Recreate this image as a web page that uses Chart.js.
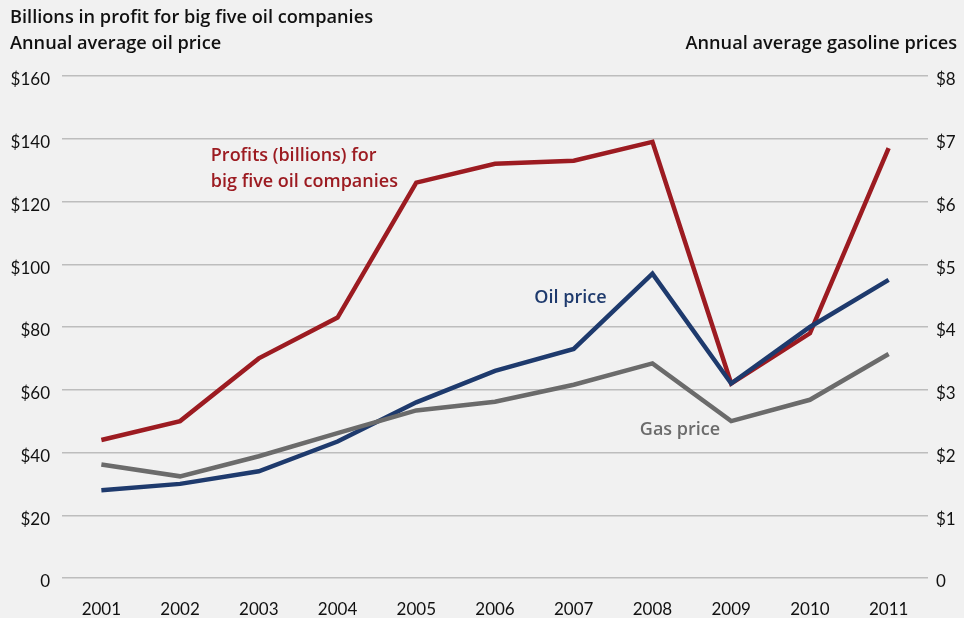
<!DOCTYPE html>
<html>
<head>
<meta charset="utf-8">
<script src="https://cdn.jsdelivr.net/npm/chart.js@4"></script>
<style>
html,body{margin:0;padding:0;background:#f1f1f1;}
#wrap{width:964px;height:618px;position:relative;}
</style>
</head>
<body>
<div id="wrap"><canvas id="c" width="964" height="618"></canvas></div>
<script>
const years = ['2001','2002','2003','2004','2005','2006','2007','2008','2009','2010','2011'];
const profits = [44, 50, 70, 83, 126, 132, 133, 139, 62, 78, 137];
const oilPrice = [28, 30, 34, 43.5, 56, 66, 73, 97, 62, 80, 95];
const gasPrice = [1.81, 1.62, 1.94, 2.31, 2.67, 2.81, 3.08, 3.42, 2.50, 2.84, 3.57];
const leftTicks = ['0','$20','$40','$60','$80','$100','$120','$140','$160'];
const rightTicks = ['0','$1','$2','$3','$4','$5','$6','$7','$8'];

const RED = '#9c1b21', BLUE = '#1e3a6d', GRAY = '#6b6b6b';
const FONT = 'Lato, "Open Sans", sans-serif';
const BFONT = '"Open Sans", Lato, sans-serif';

const textPlugin = {
  id: 'texts',
  afterDraw(chart) {
    const ctx = chart.ctx;
    const x = chart.scales.x, y = chart.scales.y;
    ctx.save();
    ctx.textBaseline = 'middle';
    ctx.font = '600 18.2px ' + BFONT;
    ctx.fillStyle = '#111';
    ctx.textAlign = 'left';
    ctx.fillText('Billions in profit for big five oil companies', 10, 18);
    ctx.fillText('Annual average oil price', 10, 44);
    ctx.textAlign = 'right';
    ctx.fillText('Annual average gasoline prices', 957, 44);
    ctx.textAlign = 'left';
    ctx.font = '600 18px ' + BFONT;
    ctx.fillStyle = RED;
    ctx.fillText('Profits (billions) for', x.getPixelForValue(1.39), y.getPixelForValue(134.4));
    ctx.fillText('big five oil companies', x.getPixelForValue(1.39), y.getPixelForValue(126.1));
    ctx.fillStyle = BLUE;
    ctx.fillText('Oil price', x.getPixelForValue(5.5), y.getPixelForValue(89.3));
    ctx.fillStyle = GRAY;
    ctx.fillText('Gas price', x.getPixelForValue(6.84), y.getPixelForValue(47.3));
    ctx.restore();
  }
};

new Chart(document.getElementById('c'), {
  type: 'line',
  data: {
    labels: years,
    datasets: [
      { label: 'Gas price', data: gasPrice, yAxisID: 'y2', borderColor: GRAY, borderWidth: 4.5, pointRadius: 0, tension: 0, fill: false },
      { label: 'Oil price', data: oilPrice, yAxisID: 'y', borderColor: BLUE, borderWidth: 4.5, pointRadius: 0, tension: 0, fill: false },
      { label: 'Profits', data: profits, yAxisID: 'y', borderColor: RED, borderWidth: 4.5, pointRadius: 0, tension: 0, fill: false }
    ]
  },
  options: {
    responsive: false,
    animation: false,
    layout: { padding: { top: 76, left: 0, right: 0, bottom: 0 } },
    plugins: { legend: { display: false }, tooltip: { enabled: false } },
    scales: {
      x: {
        type: 'category',
        offset: true,
        grid: { display: false, drawTicks: false },
        border: { display: false },
        ticks: { color: '#111', font: { family: FONT, size: 17 }, padding: 21, maxRotation: 0 },
        afterFit: s => { s.height = 40; }
      },
      y: {
        position: 'left',
        min: 0, max: 160,
        grid: { color: '#bdbdbd', lineWidth: 1.5, drawTicks: false },
        border: { display: false },
        ticks: { stepSize: 20, padding: 12, labelOffset: 4, color: '#111', font: { family: FONT, size: 17 },
          callback: (v, i) => leftTicks[i] },
        afterFit: s => { s.width = 62; }
      },
      y2: {
        position: 'right',
        min: 0, max: 8,
        grid: { display: false, drawTicks: false },
        border: { display: false },
        ticks: { stepSize: 1, padding: 8, labelOffset: 4, color: '#111', font: { family: FONT, size: 17 },
          callback: (v, i) => rightTicks[i] },
        afterFit: s => { s.width = 36; }
      }
    }
  },
  plugins: [textPlugin]
});
</script>
</body>
</html>
